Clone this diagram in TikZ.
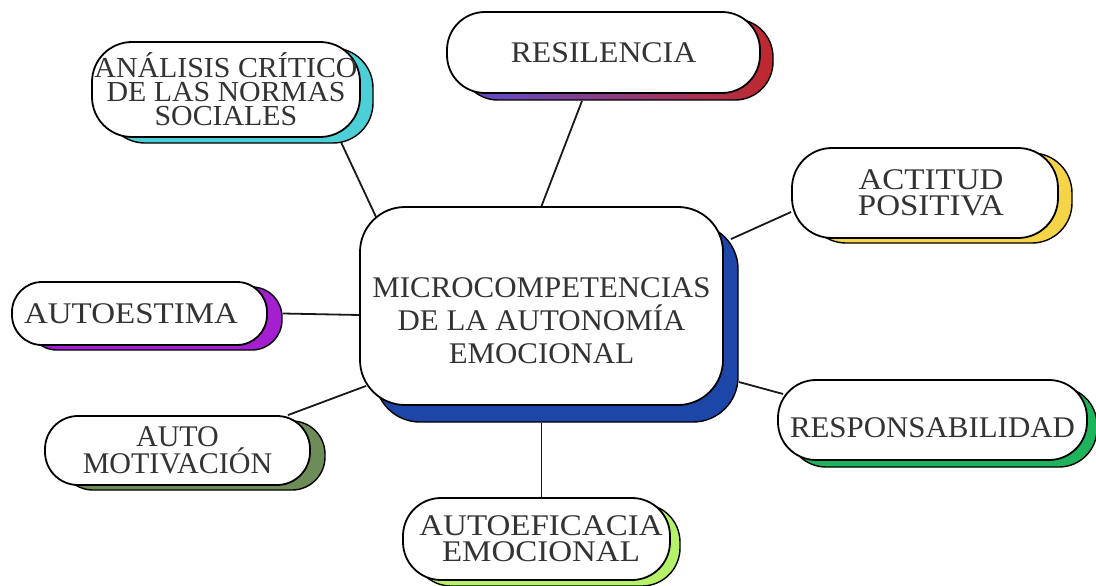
\documentclass[tikz,border=0pt]{standalone}
\usepackage{fontspec}
\setmainfont{Liberation Serif}
\newfontfamily\fsA{Liberation Serif}
\newfontfamily\fsB[FakeStretch=1.03]{Liberation Serif}
\newfontfamily\fsC[FakeStretch=1.06]{Liberation Serif}
\newfontfamily\fsD[FakeStretch=1.10]{Liberation Serif}
\usetikzlibrary{shadows,calc,backgrounds}
\definecolor{cres}{HTML}{C0282C}
\definecolor{cresb}{HTML}{5B4FD0}
\definecolor{cana}{HTML}{4CCFD6}
\definecolor{cact}{HTML}{F5D447}
\definecolor{ccen}{HTML}{1C47A8}
\definecolor{cast}{HTML}{A31FD0}
\definecolor{cmot}{HTML}{6E8C57}
\definecolor{crsp}{HTML}{1FB35C}
\definecolor{cefi}{HTML}{B5F26A}
\begin{document}
\begin{tikzpicture}[x=1pt,y=-1pt,
  box/.style={draw=black, line width=1.8pt, fill=white, align=center,
    text=black!80, inner sep=0pt},
  shad/.style n args={3}{general shadow={draw=black, line width=1.4pt, fill=#1,
    shadow xshift=#2pt, shadow yshift=-#3pt}},
  link/.style={draw=black!90, line width=1.8pt}]
\useasboundingbox (0,0) rectangle (1096,586);

\node[box, rounded corners=38pt, minimum width=313pt, minimum height=81pt,
  general shadow={draw=black, line width=1.4pt, left color=cresb, right color=cres,
    shadow xshift=13pt, shadow yshift=-7pt},
  font={\fsC\fontsize{30}{25}\selectfont}]
  (res) at (603.5,52.5) {RESILENCIA};
\node[box, rounded corners=40pt, minimum width=268pt, minimum height=95pt,
  shad={cana}{13}{6}, font={\fsB\fontsize{29}{24}\selectfont}]
  (ana) at (226,89.5) {ANÁLISIS CRÍTICO\\DE LAS NORMAS\\SOCIALES};
\node[box, rounded corners=40pt, minimum width=266pt, minimum height=90pt,
  shad={cact}{14}{5}, font={\fsD\fontsize{30}{26}\selectfont}]
  (act) at (925,193) {\hspace*{12pt}ACTITUD\\\hspace*{12pt}POSITIVA};
\node[box, rounded corners=45pt, minimum width=363pt, minimum height=198pt,
  shad={ccen}{15}{17}, font={\fsB\fontsize{30}{33}\selectfont}]
  (cen) at (541.5,306) {\rule{0pt}{50pt}MICROCOMPETENCIAS\\DE LA AUTONOMÍA\\EMOCIONAL};
\node[box, rounded corners=30pt, minimum width=255pt, minimum height=63pt,
  shad={cast}{15}{5}, font={\fsD\fontsize{30}{25}\selectfont}]
  (ast) at (139.5,313.5) {AUTOESTIMA\hspace*{17pt}};
\node[box, rounded corners=33pt, minimum width=265pt, minimum height=69pt,
  shad={cmot}{15}{5}, font={\fsA\fontsize{30}{26}\selectfont}]
  (mot) at (177.5,450.5) {AUTO\\MOTIVACIÓN};
\node[box, rounded corners=38pt, minimum width=309pt, minimum height=80pt,
  shad={crsp}{10}{7}, font={\fsB\fontsize{30}{25}\selectfont}]
  (rsp) at (932.5,420) {\rule{0pt}{35pt}RESPONSABILIDAD};
\node[box, rounded corners=38pt, minimum width=267pt, minimum height=82pt,
  shad={cefi}{10}{6}, font={\fsD\fontsize{30}{26}\selectfont}]
  (efi) at (536.5,539) {\hspace*{9pt}AUTOEFICACIA\\\hspace*{9pt}EMOCIONAL};

\begin{pgfonlayer}{background}
\draw[link] ($(res.south)+(-21.5,7)$) -- (cen.north);
\draw[link] ($(ana.south east)+(-20,4)$) -- ($(cen.north west)+(17,11)$);
\draw[link] ($(act.west)+(0,19)$) -- ($(cen.north east)+(7,33)$);
\draw[link] ($(ast.east)+(15,0)$) -- ($(cen.west)+(0,9)$);
\draw[link] ($(mot.north east)+(-23,0)$) -- ($(cen.south west)+(7,-20)$);
\draw[link] ($(rsp.west)+(6,-26)$) -- ($(cen.east)+(15,76)$);
\draw[link] ($(efi.north)+(5,0)$) -- ($(cen.south)+(0,17)$);
\end{pgfonlayer}
\end{tikzpicture}
\end{document}
